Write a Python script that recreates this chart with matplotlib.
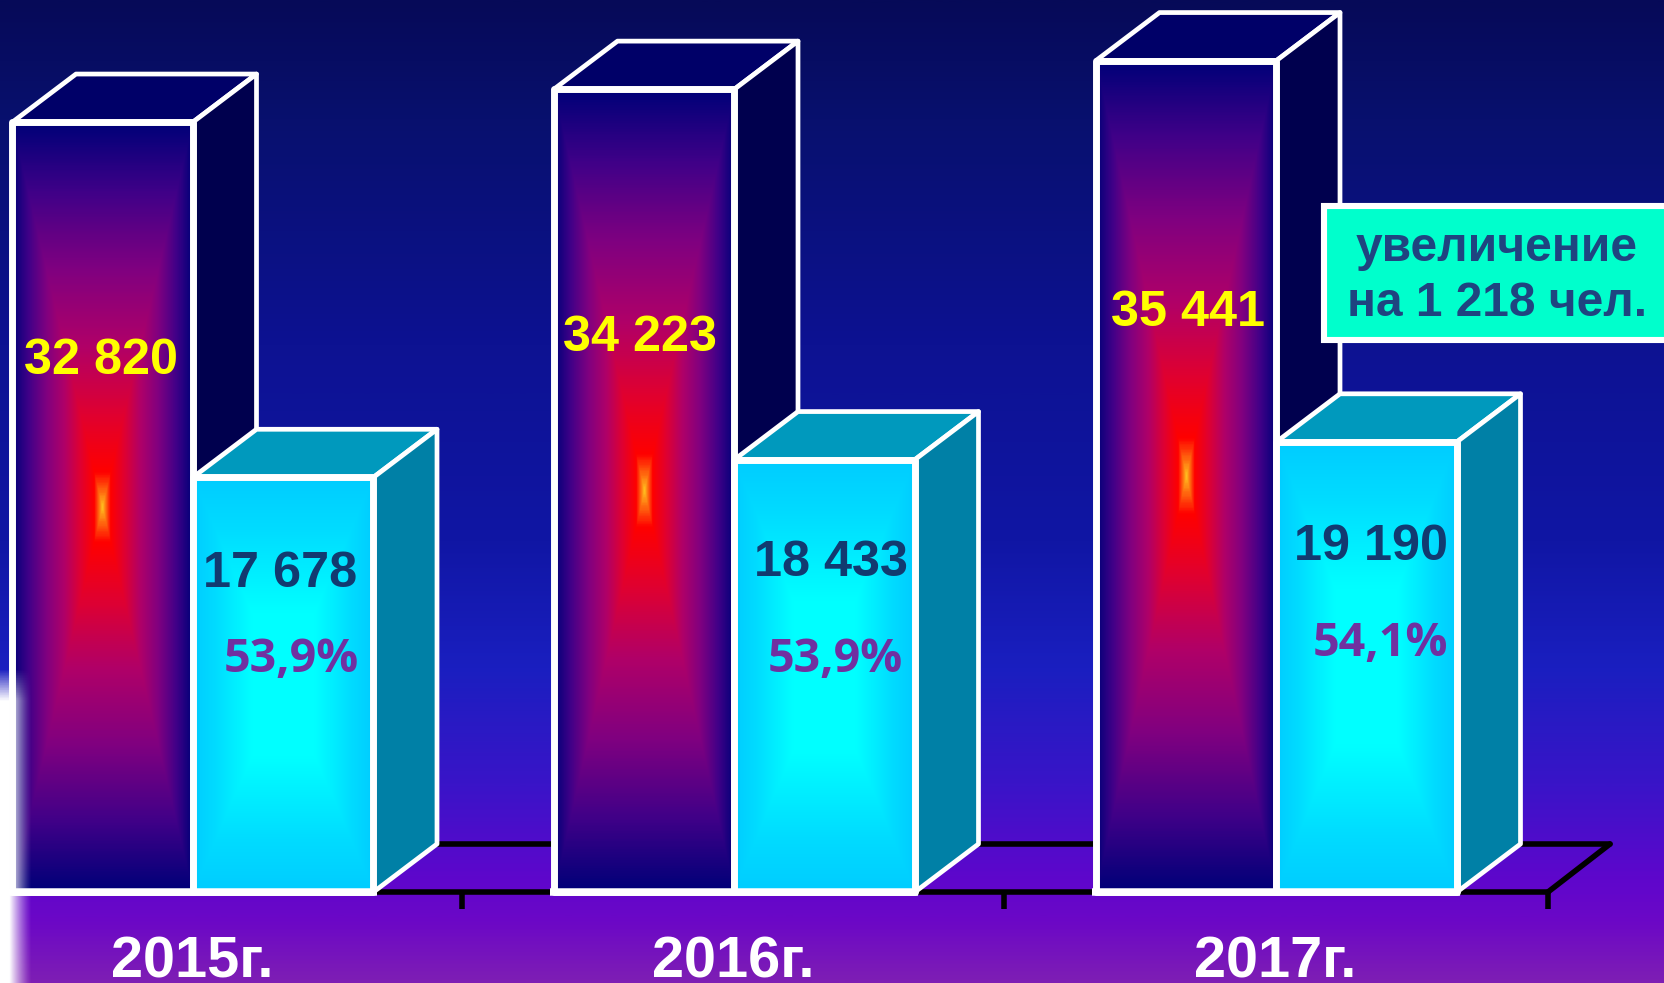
import numpy as np
import matplotlib
matplotlib.use("Agg")
import matplotlib.pyplot as plt
from matplotlib.colors import LinearSegmentedColormap as LSC
from matplotlib.patches import Polygon, Rectangle

years = ["2015г.", "2016г.", "2017г."]
total = [32820, 34223, 35441]
part = [17678, 18433, 19190]
total_labels = ["32 820", "34 223", "35 441"]
part_labels = ["17 678", "18 433", "19 190"]
share_labels = ["53,9%", "53,9%", "54,1%"]
note_lines = "увеличение\nна 1 218 чел."

W, H = 1665, 983
BASE = 892.0
PX_PER_UNIT = 0.02346
FONT = "Liberation Sans"


def val(py):
    return (BASE - py) / PX_PER_UNIT


fig = plt.figure(figsize=(W / 100, H / 100), dpi=100)
ax = fig.add_axes([0, 0, 1, 1])
ax.axis("off")

bg = LSC.from_list("bg", [(0, "#060a58"), (0.12, "#08106e"), (0.35, "#0d1292"), (0.55, "#1016a4"),
                          (0.68, "#1a1fc0"), (0.80, "#3a14c8"), (0.90, "#6006cc"), (0.94, "#6c08c6"),
                          (1, "#7e1eb4")])
ax.imshow(np.linspace(0, 1, 512)[:, None], cmap=bg, extent=(0, W, val(H), val(0)), aspect="auto", zorder=0)

red = LSC.from_list("red", [(0, "#ffc020"), (0.035, "#ff7010"), (0.09, "#ff0000"), (0.24, "#e00030"),
                            (0.42, "#b00068"), (0.62, "#800080"), (0.82, "#400088"), (1, "#000078")])
blue = LSC.from_list("blue", [(0, "#00ffff"), (0.35, "#00ffff"), (0.75, "#00dcff"), (1, "#00ccff")])


def gradient():
    v = np.linspace(-1, 1, 301)
    xx, yy = np.meshgrid(v, v)
    return np.maximum(np.abs(xx), np.abs(yy))


BW, DX, DY = 180.5, 63.5, 48.0
GROUP_X = [12.5, 554.0, 1096.0]
TICKS = [462, 1004, 1548]
DV = DY / PX_PER_UNIT


def box(x, v, cmap, top, side, z):
    ax.imshow(gradient(), cmap=cmap, vmin=0, vmax=1, extent=(x, x + BW, 0, v), aspect="auto", zorder=z)
    edge = dict(edgecolor="white", joinstyle="round", zorder=z + 0.1)
    ax.add_patch(Polygon([(x, v), (x + DX, v + DV), (x + BW + DX, v + DV), (x + BW, v)],
                         facecolor=top, lw=3.4, **edge))
    ax.add_patch(Polygon([(x + BW, v), (x + BW + DX, v + DV), (x + BW + DX, DV), (x + BW, 0)],
                         facecolor=side, lw=3.4, **edge))
    ax.add_patch(Rectangle((x, 0), BW, v, fill=False, lw=5.0, **edge))


# floor
fl = dict(color="black", lw=4.0, zorder=1, solid_capstyle="round")
ax.plot([GROUP_X[0] + 2 * BW, TICKS[2]], [0, 0], **fl)
ax.plot([GROUP_X[0] + 2 * BW + DX, TICKS[2] + DX - 1.5], [DV, DV], **fl)
ax.plot([TICKS[2], TICKS[2] + DX - 1.5], [0, DV], **fl)
for t in TICKS:
    ax.plot([t, t], [0, val(BASE + 17)], color="black", lw=4.0, zorder=1, solid_capstyle="butt")

for i in range(3):
    x = GROUP_X[i]
    box(x, total[i], red, "#000068", "#00004e", 2 + i)
    box(x + BW, part[i], blue, "#0099bd", "#0080a6", 2.5 + i)

for i in range(3):
    ax.plot([GROUP_X[i] - 3.5, GROUP_X[i] + 2 * BW + 3.5], [0, 0], color="white", lw=5.4, zorder=6,
            solid_capstyle="butt")

# left glow
gx = np.clip(1 - (np.linspace(0, 1, 64) - 0.3) / 0.7, 0, 1) ** 1.3
gy = np.clip(np.linspace(0, 1, 128) / 0.1, 0, 1)
rgba = np.ones((128, 64, 4))
rgba[..., 3] = gy[:, None] * gx[None, :]
ax.imshow(rgba, extent=(0, 32, val(H), val(668)), aspect="auto", origin="upper", zorder=7)

for i in range(3):
    ax.text([101, 640, 1188][i], val([361, 338, 313][i]), total_labels[i], color="#ffff00",
            fontsize=36.3, family=FONT, weight="bold", ha="center", va="center", zorder=8)
    ax.text([280, 831, 1371][i], val([574, 563, 547][i]), part_labels[i], color="#123a70",
            fontsize=36.3, family=FONT, weight="bold", ha="center", va="center", zorder=8)
    ax.text([291, 835, 1380][i], val([660, 660, 644][i]), share_labels[i], color="#7030a0",
            fontsize=33.6, family="Open Sans", weight="bold", ha="center", va="center", zorder=8)
    ax.text(GROUP_X[i] + BW - 1, val(978), years[i], color="white",
            fontsize=41.5, family=FONT, weight="bold", ha="center", va="baseline", zorder=8)

ax.add_patch(Rectangle((1324, val(340)), 400, val(206) - val(340), facecolor="#00ffcc", edgecolor="white",
                       lw=4.4, zorder=9))
ax.text(1497, val(276), note_lines, color="#1f4480", fontsize=34.5, family=FONT, weight="bold",
        ha="center", va="center", linespacing=1.3, zorder=10)

ax.set_xlim(0, W)
ax.set_ylim(val(H), val(0))
fig.savefig("out.png", dpi=100)
